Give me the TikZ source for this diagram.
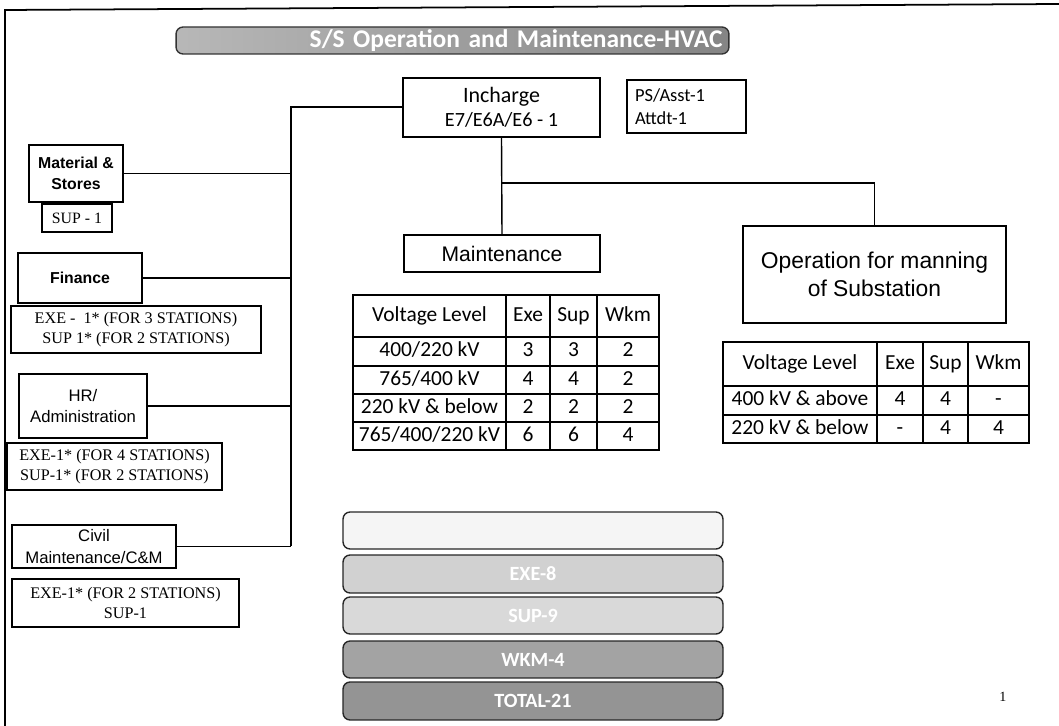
\documentclass[tikz,border=0pt]{standalone}
\usepackage{fontspec}
\setmainfont{Carlito}
\newfontfamily\arialf{Liberation Sans}
\newfontfamily\tnrf{Liberation Serif}
\begin{document}
\begin{tikzpicture}[x=0.02cm,y=-0.02cm,
  line width=0.8pt,
  box/.style={draw=black, fill=white, inner sep=0pt, align=center},
  cell/.style={inner sep=0pt, text height=8.6pt, text depth=2.6pt, font=\fontsize{12.2}{14}\selectfont},
  serifbox/.style={box, font=\tnrf\fontsize{9.2}{11.6}\selectfont},
  deptbox/.style={box, font=\arialf\fontsize{9.5}{12}\selectfont},
  stackbox/.style={draw=black!85, rounded corners=4pt, minimum width=7.6cm, text=white, font=\bfseries\fontsize{11.5}{13}\selectfont, inner sep=0pt},
  banner/.style={draw=black!80, left color=black!28, right color=black!48, rounded corners=4pt, text=white, font=\bfseries\fontsize{14.5}{16}\selectfont, inner ysep=0pt}
]
\useasboundingbox (0,0) rectangle (1059,726);
% page frame
\draw[line width=1pt] (1059,4) -- (5,10) -- (5,726);

% title banner
\node[banner, minimum width=11.06cm, minimum height=0.54cm, inner xsep=0.13cm, text width=10.8cm, align=right] (title) at (452.5,40.5) {S/S Operation and Maintenance-HVAC};

% top boxes
\node[box, minimum width=3.94cm, minimum height=1.18cm] (inc) at (501.5,107.5)
  {{\fontsize{12.5}{15}\selectfont Incharge}\\[1.5pt]{\fontsize{11.5}{14}\selectfont E7/E6A/E6 - 1}};
\node[box, minimum width=2.38cm, minimum height=1.06cm, inner xsep=0.16cm, text width=2.06cm, align=left, font=\fontsize{10.5}{13}\selectfont] (ps) at (686.5,106.5)
  {PS/Asst-1\\Attdt-1};

% left departments
\node[deptbox, minimum width=1.88cm, minimum height=1.14cm, font=\arialf\bfseries\fontsize{9}{12}\selectfont] (mat) at (76,173.5) {Material \&\\Stores};
\node[serifbox, minimum width=1.4cm, minimum height=0.56cm, font=\tnrf\fontsize{9}{11}\selectfont] (sup1) at (77,218) {SUP - 1};
\node[deptbox, minimum width=2.48cm, minimum height=1.0cm, font=\arialf\bfseries\fontsize{9}{12}\selectfont] (fin) at (80,278) {Finance};
\node[serifbox, minimum width=5.0cm, minimum height=0.94cm] (exe1) at (136,329.5) {EXE -\ \ 1* (FOR 3 STATIONS)\\SUP 1* (FOR 2 STATIONS)};
\node[deptbox, minimum width=2.56cm, minimum height=1.28cm] (hr) at (83,406) {HR/\\Administration};
\node[serifbox, minimum width=4.3cm, minimum height=0.94cm] (exe2) at (114.5,466.5) {EXE-1* (FOR 4 STATIONS)\\SUP-1* (FOR 2 STATIONS)};
\node[deptbox, minimum width=3.28cm, minimum height=0.86cm] (civ) at (94,546.5) {Civil\\Maintenance/C\&M};
\node[serifbox, minimum width=4.54cm, minimum height=0.96cm] (exe3) at (125.5,603) {EXE-1* (FOR 2 STATIONS)\\SUP-1};

% trunk connectors
\coordinate (ttop) at (291,107);
\coordinate (tbot) at (291,546);
\draw (inc.west |- ttop) -- (ttop) -- (tbot);
\draw (mat.east) -- (mat.east -| ttop);
\draw (fin.east) -- (fin.east -| ttop);
\draw (hr.east) -- (hr.east -| ttop);
\draw (civ.east) -- (civ.east -| ttop);

% main branches
\node[box, minimum width=3.92cm, minimum height=0.74cm, font=\arialf\fontsize{12}{14}\selectfont] (maint) at (502,253.5) {Maintenance};
\node[box, minimum width=5.26cm, minimum height=1.94cm, font=\arialf\fontsize{13}{16}\selectfont] (op) at (874.5,274.5) {Operation for manning\\of Substation};
\coordinate (br) at (inc.south |- 0,183);
\draw (inc.south) -- (maint.north);
\draw (br) -| (op.north);

% maintenance table
\draw (353,295) rectangle (659,450);
\foreach \x in {506,550,597} \draw (\x,295) -- (\x,450);
\foreach \y in {337,366,394,422} \draw (353,\y) -- (659,\y);
\foreach \r/\yc/\a/\b/\c/\d in {0/316/Voltage Level/Exe/Sup/Wkm,1/351.5/400\slash 220 kV/3/3/2,2/380/765\slash 400 kV/4/4/2,3/408/220 kV \& below/2/2/2,4/436/765\slash 400\slash 220 kV/6/6/4}{
  \node[cell] (m\r a) at (429.5,\yc) {\a};
  \node[cell] (m\r b) at (528,\yc) {\b};
  \node[cell] (m\r c) at (573.5,\yc) {\c};
  \node[cell] (m\r d) at (628,\yc) {\d};
}

% operation table
\draw (723,342) rectangle (1029,443);
\foreach \x in {877,923,968} \draw (\x,342) -- (\x,443);
\foreach \y in {386,415} \draw (723,\y) -- (1029,\y);
\foreach \r/\yc/\a/\b/\c/\d in {0/364/Voltage Level/Exe/Sup/Wkm,1/400.5/400 kV \& above/4/4/-,2/429/220 kV \& below/-/4/4}{
  \node[cell] (o\r a) at (800,\yc) {\a};
  \node[cell] (o\r b) at (900,\yc) {\b};
  \node[cell] (o\r c) at (945.5,\yc) {\c};
  \node[cell] (o\r d) at (998.5,\yc) {\d};
}

% summary stack
\node[stackbox, fill=black!4, minimum height=0.74cm] (s1) at (533,530.5) {};
\node[stackbox, fill=black!18, minimum height=0.76cm] (s2) at (533,574) {EXE-8};
\node[stackbox, fill=black!15, minimum height=0.74cm] (s3) at (533,615.5) {SUP-9};
\node[stackbox, fill=black!36, minimum height=0.74cm] (s4) at (533,659.5) {WKM-4};
\node[stackbox, fill=black!42, minimum height=0.76cm] (s5) at (533,701) {TOTAL-21};

% page number
\node[font=\tnrf\fontsize{8}{10}\selectfont, inner sep=0pt] (pg) at (1003,697) {1};
\end{tikzpicture}
\end{document}
